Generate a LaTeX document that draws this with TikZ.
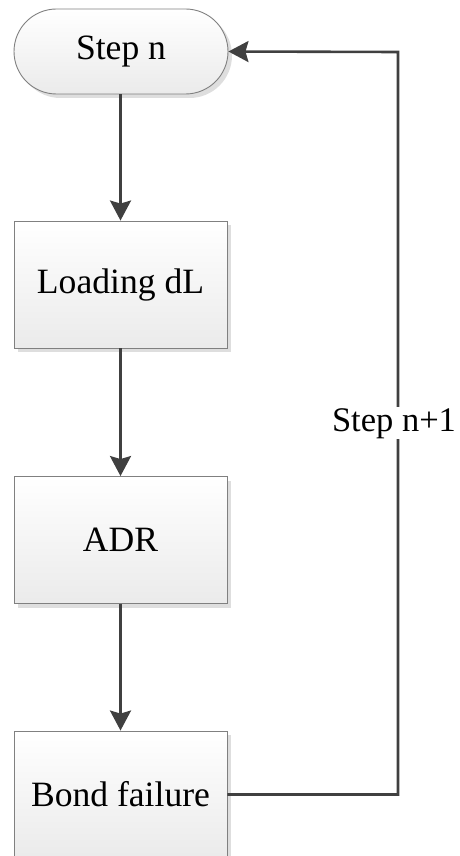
\documentclass[tikz,border=0pt]{standalone}
\usepackage{fontspec}
\setmainfont{Liberation Serif}
\usetikzlibrary{arrows.meta,shadows,shapes.misc}
\begin{document}
\begin{tikzpicture}[x=1pt,y=-1pt,
  box/.style={draw=black!50, line width=0.9pt, top color=white, bottom color=black!8,
    drop shadow={shadow xshift=4pt, shadow yshift=-4pt, fill=black!13, opacity=1},
    minimum width=213pt, inner sep=0pt, font=\fontsize{35.6}{40}\selectfont},
  stepbox/.style={box, minimum height=127pt},
  termbox/.style={box, rounded corners=42.5pt, minimum height=85pt, minimum width=214pt},
  conn/.style={draw=black!75, line width=2.6pt, -{Stealth[length=20pt,width=21pt,inset=3pt]}},
  lbl/.style={fill=white, inner sep=1pt, font=\fontsize{34.5}{40}\selectfont}
]
\useasboundingbox (0,0) rectangle (460,856);
\node[termbox] (start) at (121,51.5) {Step n};
\node[stepbox] (load) at (120.5,284.5) {Loading dL};
\node[stepbox] (adr) at (120.5,540) {ADR};
\node[stepbox] (bond) at (120.5,794.5) {Bond failure};
\coordinate (c1) at (398,794.5);
\coordinate (c2) at (398,52);
\draw[conn] (start.south -| load.north) -- (load.north);
\draw[conn] (load) -- (adr);
\draw[conn] (adr) -- (bond);
\draw[conn] (bond.east) -- (c1) -- node[lbl, xshift=-4pt] {Step n+1} (c2) -- (start.east);
\end{tikzpicture}
\end{document}
